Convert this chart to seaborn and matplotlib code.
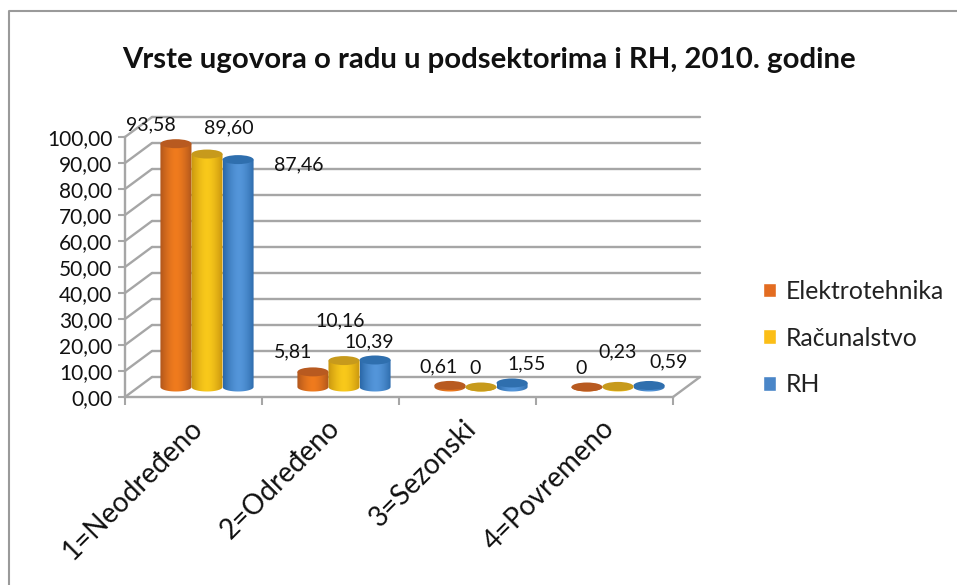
import numpy as np
import pandas as pd
import seaborn as sns
import matplotlib.pyplot as plt
from matplotlib.colors import LinearSegmentedColormap
from matplotlib.lines import Line2D
from matplotlib.patches import Ellipse
from matplotlib.path import Path
from matplotlib.ticker import FixedLocator
from matplotlib.transforms import Affine2D

# data
categories = ["1=Neodređeno", "2=Određeno", "3=Sezonski", "4=Povremeno"]
series_names = ["Elektrotehnika", "Računalstvo", "RH"]
elektrotehnika = [93.58, 5.81, 0.61, 0]
racunalstvo = [89.60, 10.16, 0, 0.23]
rh = [87.46, 10.39, 1.55, 0.59]
y_ticks = list(range(0, 101, 10))

# excel put the value labels by hand, pixels from the top of each cylinder
label_dx = [[-25, -20, -11, -6], [22, -4, -6, 0], [61, -6, 15, 20]]
label_dy = [[19, 20, 19, 19], [26, 40, 19, 35], [-5, 18, 19, 24]]

colors = ["#e36c21", "#fbbe17", "#4a86c8"]
edge_colors = ["#b0561c", "#c8950f", "#2a68a8"]
mid_colors = ["#f07b1e", "#f9c91b", "#5496da"]
top_colors = ["#b85a20", "#c79a1c", "#2f6fae"]
grid_color = "#a6a6a6"
text_color = "#111111"

df = pd.DataFrame({
    "kategorija": categories * 3,
    "serija": np.repeat(series_names, 4),
    "postotak": elektrotehnika + racunalstvo + rh,
})

sns.set_theme(style="white")
plt.rcParams["font.family"] = ["Lato", "DejaVu Sans"]

fig = plt.figure(figsize=(9.57, 5.85), dpi=100)
ax = fig.add_axes([125 / 957, 1 - 397 / 585, 548 / 957, 260 / 585])
ax.patch.set_visible(False)

sns.barplot(data=df, x="kategorija", y="postotak", hue="serija", palette=colors,
            saturation=1, width=0.68, gap=0, dodge=True, ax=ax, zorder=3)

ax.set_xlim(-0.5, 3.5)
ax.set_ylim(0, 100)
ax.set_xlabel("")
ax.set_ylabel("")

# fake 3d depth: back wall and the cylinders are shifted in display pixels
back = ax.transData + Affine2D().translate(27, 20)
mid = ax.transData + Affine2D().translate(13.5, 10)

for t in y_ticks:
    ax.plot([-0.5, 3.5], [t, t], color=grid_color, lw=1.7, transform=back,
            clip_on=False, zorder=1)
    # diagonal on the side wall
    p0 = ax.transData.transform((-0.5, t))
    ax.plot([p0[0], p0[0] + 27], [p0[1], p0[1] + 20], color=grid_color, lw=1.7,
            transform=None, clip_on=False, zorder=1)
p0 = ax.transData.transform((3.5, 0))
ax.plot([p0[0], p0[0] + 27], [p0[1], p0[1] + 20], color=grid_color, lw=1.7,
        transform=None, clip_on=False, zorder=1)

# cylinders drawn over the seaborn bars
px_per_unit = 2.6
ry = 9 / px_per_unit
grad = np.abs(np.linspace(-1, 1, 64)) ** 1.6
grad = grad.reshape(1, -1)
n = len(categories)
for s, container in enumerate(ax.containers):
    cmap = LinearSegmentedColormap.from_list("cyl", [mid_colors[s], edge_colors[s]])
    for c, bar in enumerate(container):
        x0 = bar.get_x()
        w = bar.get_width()
        v = bar.get_height()
        cx = x0 + w / 2
        bar.set_visible(False)
        z = 3 + s * 0.1
        # side of the cylinder with rounded bottom
        t = np.linspace(np.pi, 2 * np.pi, 30)
        verts = [(x0, v)] + list(zip(cx + w / 2 * np.cos(t), ry / 2 * np.sin(t))) + [(x0 + w, v), (x0, v)]
        im = ax.imshow(grad, extent=[x0, x0 + w, -ry, v + 1e-6], aspect="auto", cmap=cmap,
                       vmin=0, vmax=1, transform=mid, zorder=z)
        im.set_clip_path(Path(verts, closed=True), transform=mid)
        ax.add_patch(Ellipse((cx, v), w, ry, facecolor=top_colors[s], edgecolor="none",
                             transform=mid, clip_on=False, zorder=z + 0.01))
        txt = f"{v:.2f}".replace(".", ",") if v else "0"
        ax.annotate(txt, (cx, v), xycoords=mid, xytext=(label_dx[s][c] * 0.72, label_dy[s][c] * 0.72),
                    textcoords="offset points", ha="center", va="center", fontsize=14,
                    color=text_color, annotation_clip=False, zorder=6)

ax.set_xlim(-0.5, 3.5)
ax.set_ylim(0, 100)

# axes
sns.despine(ax=ax, top=True, right=True)
for side in ["left", "bottom"]:
    ax.spines[side].set_color(grid_color)
    ax.spines[side].set_linewidth(1.7)
ax.set_yticks(y_ticks)
ax.set_yticklabels([f"{t:.2f}".replace(".", ",") for t in y_ticks], fontsize=15, color=text_color)
ax.tick_params(axis="y", left=True, length=5, width=1.5, color=grid_color, pad=4)
ax.set_xticks(range(n))
ax.set_xticklabels(categories, rotation=45, ha="right", rotation_mode="anchor",
                   fontsize=20, color=text_color)
ax.tick_params(axis="x", which="major", length=0, pad=13)
for lab in ax.get_xticklabels():
    lab.set_transform(lab.get_transform() + Affine2D().translate(-4, 0))
ax.xaxis.set_minor_locator(FixedLocator(np.arange(-0.5, 4, 1)))
ax.tick_params(axis="x", which="minor", bottom=True, length=6, width=1.5, color=grid_color)

sns.move_legend(ax, "center left", bbox_to_anchor=(741 / 957, 1 - 338 / 585),
                bbox_transform=fig.transFigure, frameon=False, title=None, fontsize=17.8,
                handlelength=0.53, handleheight=0.53, handletextpad=0.36, labelspacing=0.96)
for t in ax.get_legend().get_texts():
    t.set_color("#222222")

fig.text(489 / 957, 1 - 60 / 585, "Vrste ugovora o radu u podsektorima i RH, 2010. godine",
         ha="center", va="center", fontsize=21.2, weight="bold", color="#111111")

# only the left and top edge of the chart frame are inside the picture
fx, fy = 9 / 957, 1 - 11 / 585
fig.add_artist(Line2D([fx, fx, 1], [0, fy, fy], transform=fig.transFigure, color="#9a9a9a", lw=1.5))

fig.savefig("out.png", dpi=100)
